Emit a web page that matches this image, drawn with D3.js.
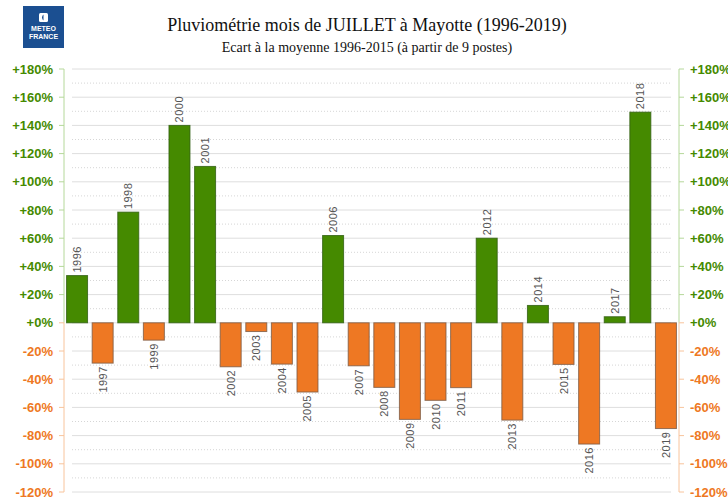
<!DOCTYPE html>
<html>
<head>
<meta charset="utf-8">
<script src="https://cdn.jsdelivr.net/npm/d3@7"></script>
<style>
  body { margin: 0; background: #fff; }
  svg { display: block; }
</style>
</head>
<body>
<svg id="viz" width="728" height="498"></svg>
<script>
// Ecart à la moyenne (%) par année
const years = ["1996","1997","1998","1999","2000","2001","2002","2003","2004","2005","2006","2007",
               "2008","2009","2010","2011","2012","2013","2014","2015","2016","2017","2018","2019"];
const ecarts = [33.5, -28.6, 78.5, -12.3, 140, 110.9, -31.2, -6.2, -29.3, -49.1, 61.9, -30.5,
                -45.8, -68.5, -55, -46, 60, -69, 12.3, -29.5, -86, 4.3, 149.4, -75];
const tickValues = [180, 160, 140, 120, 100, 80, 60, 40, 20, 0, -20, -40, -60, -80, -100, -120];
const minorValues = [170, 150, 130, 110, 90, 70, 50, 30, 10, -10, -30, -50, -70, -90, -110];

const titre = "Pluviométrie mois de JUILLET à Mayotte (1996-2019)";
const sousTitre = "Ecart à la moyenne 1996-2015 (à partir de 9 postes)";

const green = "#458a00", orange = "#ee7823";
const greenLight = "#b5d89a", orangeLight = "#f8c49c";

const svg = d3.select("#viz");

const left = 64, right = 679;
const x = d3.scaleBand().domain(years).range([left, right]).paddingInner(0.18).paddingOuter(0.1);
const y = d3.scaleLinear().domain([-120, 180]).range([492, 69]);

// titre
svg.append("text")
    .attr("x", 367).attr("y", 31)
    .attr("text-anchor", "middle")
    .attr("font-family", "Liberation Serif, Times New Roman, serif")
    .attr("font-size", "18px")
    .attr("fill", "#111")
    .text(titre);
svg.append("text")
    .attr("x", 367).attr("y", 52)
    .attr("text-anchor", "middle")
    .attr("font-family", "Liberation Serif, Times New Roman, serif")
    .attr("font-size", "14px")
    .attr("fill", "#111")
    .text(sousTitre);

// logo
const logo = svg.append("g").attr("transform", "translate(23,6)");
logo.append("rect").attr("width", 41).attr("height", 42).attr("fill", "#1b4f91");
logo.append("rect").attr("x", 16).attr("y", 7).attr("width", 9).attr("height", 9).attr("rx", 1.5).attr("fill", "#fff");
logo.append("path").attr("d", "M20.5,8.5 A3,3.5 0 0 0 20.5,14.5 Z").attr("fill", "#1b4f91");
logo.append("text").attr("x", 20.5).attr("y", 25).attr("text-anchor", "middle")
    .attr("font-family", "Liberation Sans, Arial, sans-serif").attr("font-weight", "bold")
    .attr("font-size", "7px").attr("fill", "#fff").text("METEO");
logo.append("text").attr("x", 20.5).attr("y", 33).attr("text-anchor", "middle")
    .attr("font-family", "Liberation Sans, Arial, sans-serif").attr("font-weight", "bold")
    .attr("font-size", "7px").attr("fill", "#fff").text("FRANCE");

// grille
const grid = svg.append("g");
grid.selectAll("line.major").data(tickValues).join("line")
    .attr("class", "major")
    .attr("x1", 72).attr("x2", 671)
    .attr("y1", d => y(d)).attr("y2", d => y(d))
    .attr("stroke", "#dedede").attr("stroke-width", 1);
grid.selectAll("line.minor").data(minorValues).join("line")
    .attr("class", "minor")
    .attr("x1", 72).attr("x2", 671)
    .attr("y1", d => y(d)).attr("y2", d => y(d))
    .attr("stroke", "#d6d6d6").attr("stroke-width", 1)
    .attr("stroke-dasharray", "1,2");

// axes gauche et droit
function drawAxis(xPos, side) {
    const g = svg.append("g");
    g.append("line").attr("x1", xPos).attr("x2", xPos)
        .attr("y1", y(180)).attr("y2", y(0)).attr("stroke", greenLight);
    g.append("line").attr("x1", xPos).attr("x2", xPos)
        .attr("y1", y(0)).attr("y2", y(-120)).attr("stroke", orangeLight);
    g.selectAll("line.tick").data(tickValues).join("line")
        .attr("class", "tick")
        .attr("x1", xPos).attr("x2", xPos + side * 5)
        .attr("y1", d => y(d)).attr("y2", d => y(d))
        .attr("stroke", d => d > 0 ? greenLight : orangeLight);
    g.selectAll("text").data(tickValues).join("text")
        .attr("x", side < 0 ? xPos - 11 : xPos + 11)
        .attr("y", d => y(d))
        .attr("dy", "0.36em")
        .attr("text-anchor", side < 0 ? "end" : "start")
        .attr("font-family", "Liberation Sans, Arial, sans-serif")
        .attr("font-weight", "bold")
        .attr("font-size", "13px")
        .attr("fill", d => d >= 0 ? green : orange)
        .text(d => (d >= 0 ? "+" : "") + d + "%");
}
drawAxis(left, -1);
drawAxis(right, 1);

// barres
const data = years.map((yr, i) => ({ year: yr, value: ecarts[i] }));
svg.append("g").selectAll("rect").data(data).join("rect")
    .attr("x", d => x(d.year))
    .attr("y", d => y(Math.max(0, d.value)))
    .attr("width", x.bandwidth())
    .attr("height", d => Math.abs(y(d.value) - y(0)))
    .attr("fill", d => d.value >= 0 ? green : orange)
    .attr("stroke", d => d.value >= 0 ? "#2f5e10" : "#7a5a45")
    .attr("stroke-opacity", 0.8)
    .attr("stroke-width", 1);

// étiquettes des années
svg.append("g").selectAll("text").data(data).join("text")
    .attr("transform", d => {
        const cx = x(d.year) + x.bandwidth() / 2 + 4;
        const cy = d.value >= 0 ? y(d.value) - 3 : y(d.value) + 3;
        return `translate(${cx},${cy}) rotate(-90)`;
    })
    .attr("text-anchor", d => d.value >= 0 ? "start" : "end")
    .attr("font-family", "Liberation Sans, Arial, sans-serif")
    .attr("font-size", "11px")
    .attr("letter-spacing", "0.5px")
    .attr("fill", "#555")
    .text(d => d.year);
</script>
</body>
</html>
